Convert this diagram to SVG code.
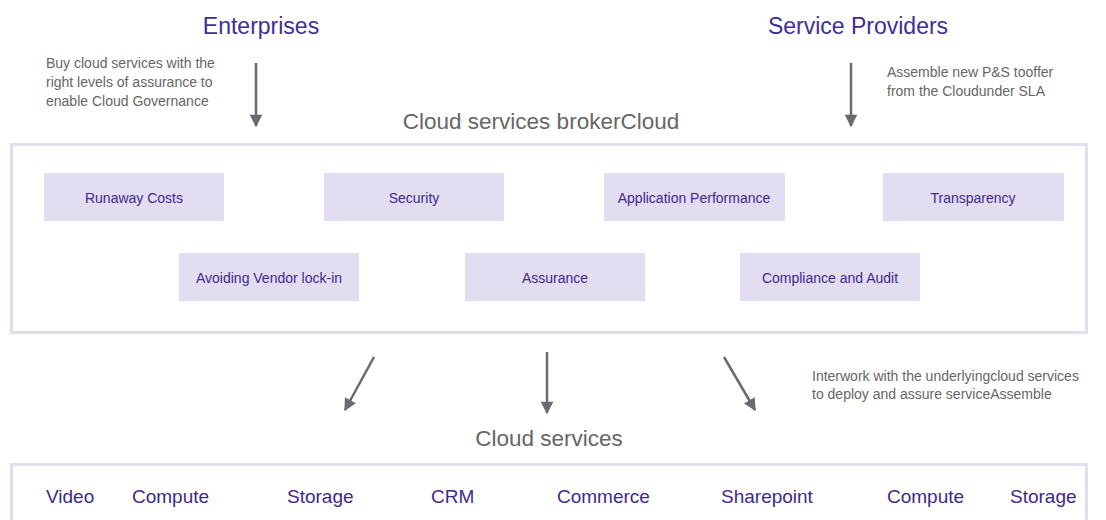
<svg xmlns="http://www.w3.org/2000/svg" width="1106" height="520" viewBox="0 0 1106 520">
<defs>
<marker id="ah" viewBox="0 0 10 10" refX="9" refY="5" markerWidth="5.5" markerHeight="5" markerUnits="strokeWidth" orient="auto">
<path d="M0,0 L10,5 L0,10 z" fill="#6a6a70"/>
</marker>
<style>
.head{font-family:"Liberation Sans",Arial,sans-serif;font-size:23px;fill:#3f2e97;text-anchor:middle}
.title{font-family:"Liberation Sans",Arial,sans-serif;font-size:22.5px;fill:#666;text-anchor:middle}
.note{font-family:"Liberation Sans",Arial,sans-serif;font-size:14px;fill:#666}
.frame{fill:#fff;stroke:#e2def0;stroke-width:3}
.box{fill:#e2ddf0}
.lbl{font-family:"Liberation Sans",Arial,sans-serif;font-size:14px;fill:#3d2a8c;text-anchor:middle}
.svc{font-family:"Liberation Sans",Arial,sans-serif;font-size:19px;fill:#3d2a8c}
.arr{stroke:#6a6a70;stroke-width:2.5;fill:none;marker-end:url(#ah)}
</style>
</defs>
<rect width="1106" height="520" fill="#fff"/>
<g id="enterprises">
<text class="head" x="261" y="34">Enterprises</text>
<text class="note" x="46" y="68">Buy cloud services with the</text>
<text class="note" x="46" y="87">right levels of assurance to</text>
<text class="note" x="46" y="106">enable Cloud Governance</text>
</g>
<g id="service-providers">
<text class="head" x="858" y="34">Service Providers</text>
<text class="note" x="887" y="77">Assemble new P&amp;S tooffer</text>
<text class="note" x="887" y="96">from the Cloudunder SLA</text>
</g>
<g id="broker">
<text class="title" x="541" y="129">Cloud services brokerCloud</text>
<rect class="frame" x="11.5" y="144.5" width="1075" height="188"/>
</g>
<g id="runaway"><rect class="box" x="44" y="173" width="180" height="48"/><text class="lbl" x="134" y="203">Runaway Costs</text></g>
<g id="security"><rect class="box" x="324" y="173" width="180" height="48"/><text class="lbl" x="414" y="203">Security</text></g>
<g id="appperf"><rect class="box" x="604" y="173" width="181" height="48"/><text class="lbl" x="694" y="203">Application Performance</text></g>
<g id="transparency"><rect class="box" x="883" y="173" width="181" height="48"/><text class="lbl" x="973" y="203">Transparency</text></g>
<g id="vendor"><rect class="box" x="179" y="253" width="180" height="48"/><text class="lbl" x="269" y="283">Avoiding Vendor lock-in</text></g>
<g id="assurance"><rect class="box" x="465" y="253" width="180" height="48"/><text class="lbl" x="555" y="283">Assurance</text></g>
<g id="compliance"><rect class="box" x="740" y="253" width="180" height="48"/><text class="lbl" x="830" y="283">Compliance and Audit</text></g>
<g id="interwork">
<text class="note" x="812" y="381">Interwork with the underlyingcloud services</text>
<text class="note" x="812" y="399">to deploy and assure serviceAssemble</text>
</g>
<g id="cloud-services">
<text class="title" x="549" y="446">Cloud services</text>
<rect class="frame" x="11.5" y="464.5" width="1075" height="70"/>
<text class="svc" x="46" y="503">Video</text>
<text class="svc" x="132" y="503">Compute</text>
<text class="svc" x="287" y="503">Storage</text>
<text class="svc" x="431" y="503">CRM</text>
<text class="svc" x="557" y="503">Commerce</text>
<text class="svc" x="721" y="503">Sharepoint</text>
<text class="svc" x="887" y="503">Compute</text>
<text class="svc" x="1010" y="503">Storage</text>
</g>
<g id="connectors">
<line class="arr" x1="256" y1="63" x2="256" y2="126"/>
<line class="arr" x1="851" y1="63" x2="851" y2="126"/>
<line class="arr" x1="374" y1="357" x2="345" y2="410"/>
<line class="arr" x1="547" y1="352" x2="547" y2="413"/>
<line class="arr" x1="724" y1="357" x2="755" y2="410"/>
</g>
</svg>
